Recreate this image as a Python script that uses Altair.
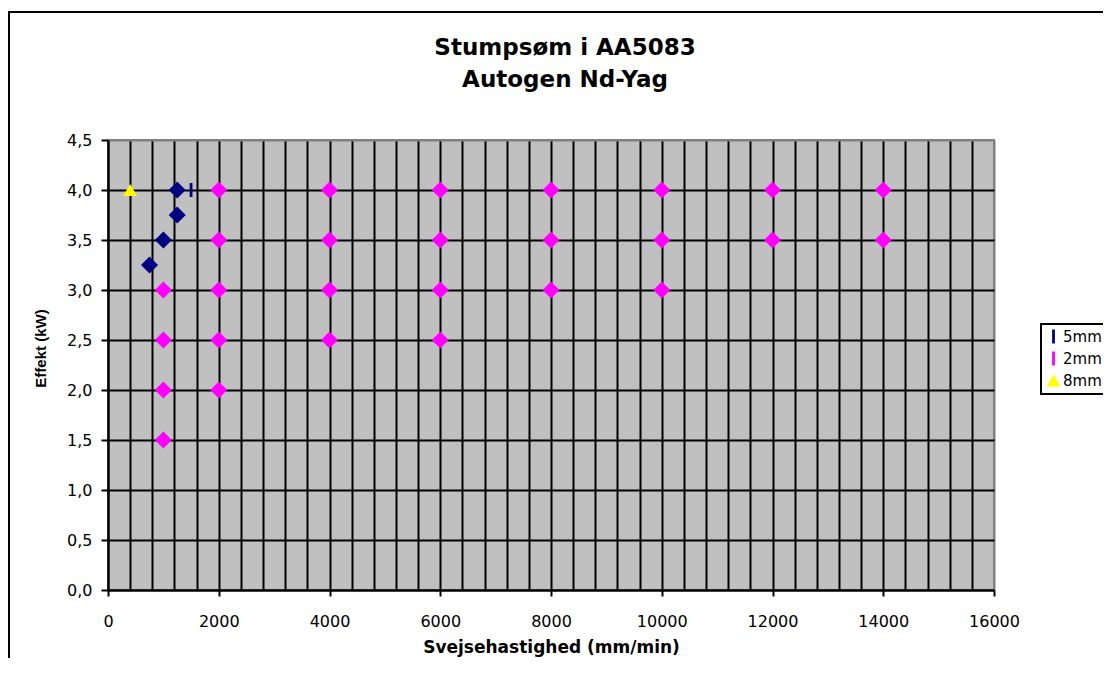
import altair as alt
import pandas as pd

# ---- data ----
# 5mm series (navy diamonds) and its one bar-shaped marker
s5_x = [750, 1000, 1250, 1250]
s5_y = [3.25, 3.5, 3.75, 4.0]
s5_bar_x = [1500]
s5_bar_y = [4.0]

# 2mm series (magenta diamonds)
s2_x = [1000, 1000, 1000, 1000,
        2000, 2000, 2000, 2000, 2000,
        4000, 4000, 4000, 4000,
        6000, 6000, 6000, 6000,
        8000, 8000, 8000,
        10000, 10000, 10000,
        12000, 12000,
        14000, 14000]
s2_y = [1.5, 2.0, 2.5, 3.0,
        2.0, 2.5, 3.0, 3.5, 4.0,
        2.5, 3.0, 3.5, 4.0,
        2.5, 3.0, 3.5, 4.0,
        3.0, 3.5, 4.0,
        3.0, 3.5, 4.0,
        3.5, 4.0,
        3.5, 4.0]

# 8mm series (yellow triangle)
s8_x = [400]
s8_y = [4.0]

series_names = ["5mm", "2mm", "8mm"]
series_colors = ["#000080", "#FF00FF", "#FFFF00"]
BAR = "M-0.2,-1H0.2V1H-0.2Z"
series_shapes = [BAR, BAR, "triangle-up"]

x_ticks = list(range(0, 16001, 400))
y_ticks = [0, 0.5, 1.0, 1.5, 2.0, 2.5, 3.0, 3.5, 4.0, 4.5]

df5 = pd.DataFrame({"x": s5_x, "y": s5_y})
df2 = pd.DataFrame({"x": s2_x, "y": s2_y})
dfleg = pd.DataFrame({
    "x": s5_bar_x + s8_x,
    "y": s5_bar_y + s8_y,
    "series": ["5mm"] * len(s5_bar_x) + ["8mm"] * len(s8_x),
})

x_axis = alt.Axis(
    values=x_ticks,
    labelExpr="datum.value % 2000 === 0 ? format(datum.value, 'd') : ''",
    labelFont="DejaVu Sans", labelFontSize=16, labelColor="black",
    labelPadding=17, labelFlush=False, labelOverlap=False,
    tickSize=6, tickWidth=2, tickColor="black",
    tickOpacity={"condition": {"test": "datum.value % 2000 === 0", "value": 1}, "value": 0},
    grid=True,
    gridColor={"condition": {"test": "datum.value >= 16000", "value": "#808080"}, "value": "black"},
    gridWidth=2, gridOpacity=1,
    domainColor="black", domainWidth=2,
    title="Svejsehastighed (mm/min)", titleFont="DejaVu Sans", titleFontSize=17,
    titleFontWeight="bold", titleColor="black",
    titleX=443, titleY=62, titleAlign="center", titleBaseline="alphabetic",
)

y_axis = alt.Axis(
    values=y_ticks,
    labelExpr="replace(format(datum.value, '.1f'), '.', ',')",
    labelFont="DejaVu Sans", labelFontSize=16, labelColor="black",
    labelPadding=9,
    tickSize=7, tickWidth=2, tickColor="black",
    grid=True,
    gridColor={"condition": {"test": "datum.value >= 4.5", "value": "#808080"}, "value": "black"},
    gridWidth=2, gridOpacity=1,
    domainColor="black", domainWidth=2,
    title="Effekt (kW)", titleFont="Liberation Sans", titleFontSize=15,
    titleFontWeight="bold", titleColor="black", titleAngle=270,
    titleX=-63, titleY=208, titleAlign="center", titleBaseline="alphabetic",
)

x_enc = alt.X("x:Q", scale=alt.Scale(domain=[0, 16000], nice=False), axis=x_axis)
y_enc = alt.Y("y:Q", scale=alt.Scale(domain=[0, 4.5], nice=False), axis=y_axis)

border = alt.Chart(alt.Data(values=[{}])).mark_rect(
    fill=None, fillOpacity=0, stroke="black", strokeWidth=2
).encode(
    x=alt.value(-99), x2=alt.value(1200),
    y=alt.value(-128), y2=alt.value(700),
)

d5 = alt.Chart(df5).mark_point(
    shape="diamond", filled=True, size=290, opacity=1, color=series_colors[0]
).encode(x=x_enc, y=y_enc)

d2 = alt.Chart(df2).mark_point(
    shape="diamond", filled=True, size=290, opacity=1, color=series_colors[1]
).encode(x=x_enc, y=y_enc)

leg = alt.Chart(dfleg).mark_point(filled=True, opacity=1, strokeWidth=0).encode(
    x=x_enc, y=y_enc,
    color=alt.Color("series:N",
                    scale=alt.Scale(domain=series_names, range=series_colors),
                    legend=alt.Legend(title=None)),
    shape=alt.Shape("series:N",
                    scale=alt.Scale(domain=series_names, range=series_shapes),
                    legend=alt.Legend(title=None)),
    size=alt.Size("series:N",
                  scale=alt.Scale(domain=series_names, range=[196, 196, 256]),
                  legend=None),
)

chart = alt.layer(border, d5, d2, leg).properties(
    width=886, height=450,
    autosize=alt.AutoSizeParams(type="none"),
    padding={"left": 100, "top": 132, "right": 109, "bottom": 68},
    background="white",
    title=alt.TitleParams(
        text=["Stumpsøm i AA5083", "Autogen Nd-Yag"],
        font="DejaVu Sans", fontSize=23, fontWeight="bold", color="black",
        anchor="middle", dx=14, offset=-99, lineHeight=32, baseline="alphabetic",
    ),
).configure_view(
    fill="#C0C0C0", stroke="#808080", strokeWidth=2
).configure_legend(
    orient="none", legendX=933, legendY=184,
    strokeColor="black", strokeWidth=2, fillColor="white", padding=5,
    labelFont="DejaVu Sans", labelFontSize=15, labelColor="black",
    symbolSize=170, labelOffset=2, rowPadding=6, symbolStrokeWidth=0,
)

chart.save("out.html", embed_options={"renderer": "svg", "actions": False})
